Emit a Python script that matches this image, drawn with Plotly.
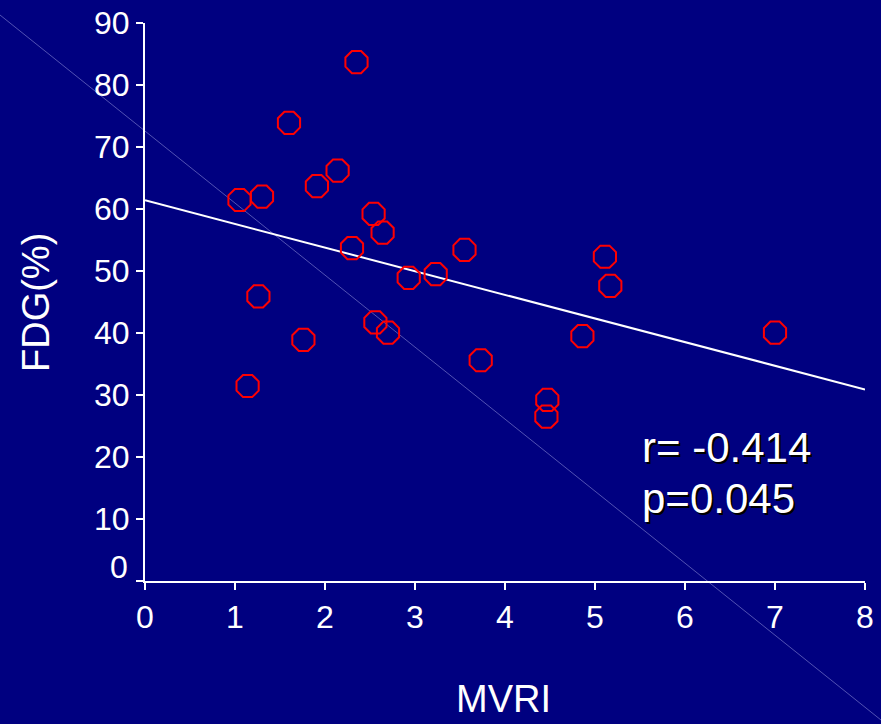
import plotly.graph_objects as go

# MVRI vs FDG uptake, one point per patient
mvri = [1.05, 1.30, 1.60, 2.35, 2.14, 1.91, 2.54, 2.64, 2.30, 3.55, 2.93, 3.23,
        1.26, 2.56, 2.70, 1.76, 3.73, 1.14, 5.11, 5.17, 4.86, 4.47, 4.46, 7.00]
fdg = [61.45, 62.0, 73.9, 83.7, 66.2, 63.7, 59.2, 56.2, 53.7, 53.4, 48.9, 49.5,
       45.9, 41.7, 40.05, 38.9, 35.6, 31.45, 52.3, 47.6, 39.5, 29.2, 26.5, 40.05]

# least-squares regression line end points
fit_x = [0, 8]
fit_y = [61.4, 30.9]

x_ticks = [0, 1, 2, 3, 4, 5, 6, 7, 8]
y_ticks = [0, 10, 20, 30, 40, 50, 60, 70, 80, 90]
y_ticktext = [""] + [str(v) for v in y_ticks[1:]]

stats = ["r= -0.414", "p=0.045"]

FONT = "Liberation Sans, Arial, sans-serif"
NAVY = "#000080"

fig = go.Figure()

fig.add_trace(go.Scatter(
    x=fit_x, y=fit_y, mode="lines",
    line=dict(color="white", width=2),
    hoverinfo="skip", showlegend=False,
))

fig.add_trace(go.Scatter(
    x=mvri, y=fdg, mode="markers",
    marker=dict(symbol="octagon-open", size=24, color="#ff0000",
                line=dict(color="#ff0000", width=2)),
    showlegend=False,
))

axis_common = dict(
    showline=True, linecolor="white", linewidth=2,
    ticks="outside", ticklen=7, tickwidth=2, tickcolor="white",
    showgrid=False, zeroline=False, automargin=False,
    tickfont=dict(family=FONT, size=32, color="white"),
)

fig.update_xaxes(range=[0, 8], tickvals=x_ticks, **axis_common)
fig.update_yaxes(range=[0, 90], tickvals=y_ticks, ticktext=y_ticktext, **axis_common)

annotations = [
    # zero label of the y axis sits slightly above its tick
    dict(text="0", x=-0.0208, y=0.0251, xref="paper", yref="paper",
         xanchor="right", yanchor="middle", showarrow=False,
         font=dict(family=FONT, size=32, color="white")),
    dict(text="FDG(%)", x=-0.1514, y=0.5, xref="paper", yref="paper",
         xanchor="center", yanchor="middle", textangle=-90, showarrow=False,
         font=dict(family=FONT, size=38, color="white")),
    dict(text="MVRI", x=0.4986, y=-0.2115, xref="paper", yref="paper",
         xanchor="center", yanchor="middle", showarrow=False,
         font=dict(family=FONT, size=38, color="white")),
]
for txt, yp in zip(stats, [0.2384, 0.1487]):
    annotations.append(dict(
        text=txt, x=0.6875, y=yp, xref="paper", yref="paper",
        xanchor="left", yanchor="middle", showarrow=False,
        font=dict(family=FONT, size=42, color="white",
                  shadow="2px 2px 0px #000000"),
    ))

fig.update_layout(
    width=881, height=724,
    margin=dict(l=145, r=16, t=23, b=143),
    paper_bgcolor=NAVY, plot_bgcolor=NAVY,
    annotations=annotations,
    shapes=[dict(type="line", xref="paper", yref="paper",
                 x0=-0.2014, y0=1.0143, x1=1.0222, y1=-0.2491,
                 line=dict(color="rgba(150,150,220,0.55)", width=1),
                 layer="below")],
)

fig.write_html("out.html")
